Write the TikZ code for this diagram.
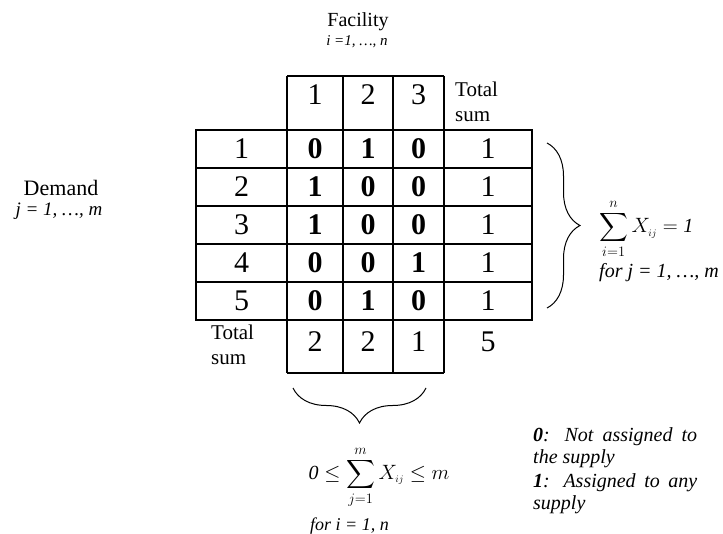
\documentclass[tikz,border=0pt]{standalone}
\usepackage{fontspec}
\setmainfont{Liberation Serif}
\DeclareFontShape{OMX}{cmex}{m}{n}{<-> cmex10}{}
\usetikzlibrary{decorations.pathreplacing}
\begin{document}
\begin{tikzpicture}[x=1pt,y=-1pt,
  gridline/.style={line width=2.1pt},
  num/.style={font=\fontsize{30}{30}\selectfont, inner sep=0pt},
  bnum/.style={font=\bfseries\fontsize{30}{30}\selectfont, inner sep=0pt},
  lbl/.style={font=\fontsize{20}{22}\selectfont, inner sep=0pt, anchor=base},
  ilbl/.style={font=\itshape\fontsize{15}{18}\selectfont, inner sep=0pt, anchor=base},
  tot/.style={font=\fontsize{21}{22}\selectfont, inner sep=0pt, anchor=base west},
  formula/.style={font=\fontsize{20}{22}\selectfont, inner sep=0pt},
  forline/.style={font=\itshape\fontsize{18}{20}\selectfont, inner sep=0pt, anchor=base west},
  legend/.style={font=\itshape\fontsize{20}{22}\selectfont, inner sep=0pt, anchor=base west},
  bracestyle/.style={line width=1pt, decorate}]
\path[use as bounding box] (0,0) rectangle (723,534);

% grid
\draw[gridline] (196,130) rectangle (532,320);
\foreach \yy in {168,206,244,282} \draw[gridline] (196,\yy) -- (532,\yy);
\foreach \xx in {287,343,393,444} \draw[gridline] (\xx,76) -- (\xx,373);
\draw[gridline] (287,76) -- (444,76);
\draw[gridline] (287,373) -- (444,373);

% header
\node[lbl] (fac) at (358,27) {Facility};
\node[ilbl] (faci) at (357,46) {i =1, \dots, n};
\node[num] (h1) at (315,95) {1};
\node[num] (h2) at (368,95) {2};
\node[num] (h3) at (418.5,95) {3};
\node[tot] (tt1) at (455,97) {Total};
\node[tot] (ts1) at (455,122) {sum};

% demand
\node[lbl, font=\fontsize{22}{24}\selectfont] (dem) at (61,196) {Demand};
\node[ilbl, font=\itshape\fontsize{19}{20}\selectfont] (demj) at (59,216) {j = 1, \dots, m};

% rows
\foreach \r/\a/\b/\c [count=\k] in {149/0/1/0, 187/1/0/0, 225/1/0/0, 263/0/0/1, 301/0/1/0} {
  \node[num] (r\k) at (241.5,\r) {\k};
  \node[bnum] (c\k a) at (315,\r) {\a};
  \node[bnum] (c\k b) at (368,\r) {\b};
  \node[bnum] (c\k c) at (418.5,\r) {\c};
  \node[num] (s\k) at (488,\r) {1};
}

% bottom sums
\node[tot] (tt2) at (211,340) {Total};
\node[tot] (ts2) at (211,365) {sum};
\node[num] (b1) at (315,342) {2};
\node[num] (b2) at (368,342) {2};
\node[num] (b3) at (418.5,342) {1};
\node[num] (b4) at (488,342) {5};

% right brace
\coordinate (rb1) at (547,143);
\coordinate (rb2) at (547,308);
\draw[bracestyle, decoration={brace, amplitude=33pt}] (rb1) -- (rb2);
\node[formula, anchor=west] (rf) at (599,229) {$\displaystyle\sum_{i=1}^{n} X_{\scriptscriptstyle ij} = \mathit{1}$};
\node[forline, font=\itshape\fontsize{20}{22}\selectfont] (rfor) at (599,278) {for j = 1, \dots, m};

% bottom brace
\coordinate (bb1) at (426,388);
\coordinate (bb2) at (293,388);
\draw[bracestyle, decoration={brace, amplitude=35pt}] (bb1) -- (bb2);
\node[formula] (bf) at (379,477) {$\displaystyle \mathit{0} \le \sum_{j=1}^{m} X_{\scriptscriptstyle ij} \le m$};
\node[forline] (bfor) at (310,530) {for i = 1, n};

% legend
\node[legend] (l1) at (533,442) {\makebox[164pt][s]{\textbf{0}: Not assigned to}};
\node[legend] (l2) at (533,464) {the supply};
\node[legend] (l3) at (533,487) {\makebox[164pt][s]{\textbf{1}: Assigned to any}};
\node[legend] (l4) at (533,509) {supply};
\end{tikzpicture}
\end{document}
